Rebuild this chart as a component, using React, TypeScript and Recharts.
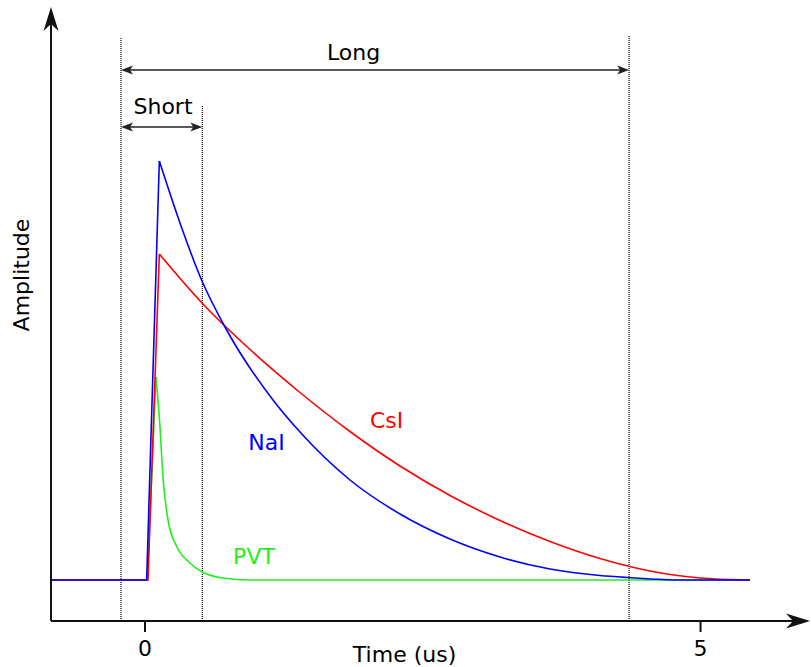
import React from 'react';
import { LineChart, Line, XAxis, YAxis, ReferenceLine, ReferenceDot } from 'recharts';

// Time in microseconds, amplitude in arbitrary units (baseline = 41)
const xTicks = [0, 5];
const xDomain = [-0.846, 5.985];
const yDomain = [0, 613];

const naiRise = [
  { t: -0.846, v: 41 },
  { t: 0.015, v: 41 },
  { t: 0.129, v: 460 },
];
const naiDecay = [
  { t: 0.129, v: 460 },
  { t: 0.315, v: 398 },
  { t: 0.513, v: 340 },
  { t: 0.72, v: 294 },
  { t: 1.152, v: 221 },
  { t: 1.395, v: 189 },
  { t: 1.845, v: 141 },
  { t: 2.295, v: 107 },
  { t: 2.745, v: 82 },
  { t: 3.195, v: 64 },
  { t: 3.645, v: 52 },
  { t: 4.095, v: 45.5 },
  { t: 4.347, v: 43.5 },
  { t: 4.84, v: 41 },
  { t: 5.445, v: 41 },
];

const csiRise = [
  { t: -0.846, v: 41 },
  { t: 0.027, v: 41 },
  { t: 0.129, v: 367 },
];
const csiDecay = [
  { t: 0.129, v: 367 },
  { t: 0.513, v: 318 },
  { t: 0.945, v: 271.5 },
  { t: 1.395, v: 228.5 },
  { t: 1.845, v: 189.5 },
  { t: 2.295, v: 155 },
  { t: 2.745, v: 125.5 },
  { t: 3.195, v: 100.5 },
  { t: 3.645, v: 79.5 },
  { t: 4.095, v: 62.5 },
  { t: 4.545, v: 50 },
  { t: 4.995, v: 43 },
  { t: 5.445, v: 41 },
];

const pvtRise = [
  { t: -0.846, v: 41 },
  { t: 0.02, v: 41 },
  { t: 0.099, v: 244 },
];
const pvtDecay = [
  { t: 0.099, v: 244 },
  { t: 0.135, v: 194 },
  { t: 0.162, v: 144 },
  { t: 0.207, v: 101 },
  { t: 0.288, v: 74 },
  { t: 0.405, v: 58 },
  { t: 0.513, v: 49 },
  { t: 0.702, v: 43 },
  { t: 0.945, v: 41 },
  { t: 5.445, v: 41 },
];

// Integration gates (us)
const gateStart = -0.216;
const shortEnd = 0.516;
const longEnd = 4.357;

const FONT = "'DejaVu Sans', Verdana, sans-serif";
const NAI_COLOR = '#0000ff';
const CSI_COLOR = '#ff0000';
const PVT_COLOR = '#22ee22';

function headPoints(tx: number, ty: number, dx: number, dy: number, len: number, half: number, notch: number) {
  const l = Math.hypot(dx, dy) || 1;
  const ux = dx / l;
  const uy = dy / l;
  const px = -uy;
  const py = ux;
  const bx = tx - ux * len;
  const by = ty - uy * len;
  const nx = tx - ux * notch;
  const ny = ty - uy * notch;
  return `${tx},${ty} ${bx + px * half},${by + py * half} ${nx},${ny} ${bx - px * half},${by - py * half}`;
}

const axisArrowShape = (props: any) => {
  const { x1, y1, x2, y2 } = props;
  const dx = x2 - x1;
  const dy = y2 - y1;
  const l = Math.hypot(dx, dy) || 1;
  const ex = x2 - (dx / l) * 16;
  const ey = y2 - (dy / l) * 16;
  return (
    <g>
      <line x1={x1} y1={y1} x2={ex} y2={ey} stroke="#111" strokeWidth={2} />
      <polygon points={headPoints(x2, y2, dx, dy, 24, 7.5, 17)} fill="#111" />
    </g>
  );
};

const doubleArrowShape = (props: any) => {
  const { x1, y1, x2, y2 } = props;
  const dx = x2 - x1;
  const dy = y2 - y1;
  return (
    <g>
      <line x1={x1 + 6} y1={y1} x2={x2 - 6} y2={y2} stroke="#222" strokeWidth={1.6} />
      <polygon points={headPoints(x2, y2, dx, dy, 12, 4.5, 9)} fill="#222" />
      <polygon points={headPoints(x1, y1, -dx, -dy, 12, 4.5, 9)} fill="#222" />
    </g>
  );
};

const textShape = (value: string, color: string, rotate = false) => (props: any) => {
  const { cx, cy } = props;
  return (
    <text
      x={cx}
      y={cy}
      textAnchor="middle"
      fill={color}
      fontSize={22}
      fontFamily={FONT}
      transform={rotate ? `rotate(-90, ${cx}, ${cy})` : undefined}
    >
      {value}
    </text>
  );
};

const labels = [
  { t: 1.877, v: 561, text: 'Long', color: '#000', rotate: false },
  { t: 0.162, v: 507, text: 'Short', color: '#000', rotate: false },
  { t: 1.094, v: 171, text: 'NaI', color: NAI_COLOR, rotate: false },
  { t: 2.174, v: 193, text: 'CsI', color: CSI_COLOR, rotate: false },
  { t: 0.981, v: 57, text: 'PVT', color: PVT_COLOR, rotate: false },
  { t: 2.336, v: -41, text: 'Time (us)', color: '#000', rotate: false },
  { t: -1.044, v: 346, text: 'Amplitude', color: '#000', rotate: true },
];

export default function App() {
  const lineCommon = {
    type: 'monotone' as const,
    dataKey: 'v',
    dot: false,
    activeDot: false,
    strokeWidth: 1.6,
    isAnimationActive: false,
  };
  const dotted = { stroke: '#000', strokeWidth: 1.2, strokeDasharray: '1 1', ifOverflow: 'visible' as const };
  return (
    <div style={{ position: 'absolute', left: 0, top: 0, width: 811, height: 667, background: '#fff' }}>
      <LineChart width={811} height={667} margin={{ top: 8, right: 1, bottom: 16, left: 51 }}>
        <XAxis
          dataKey="t"
          type="number"
          domain={xDomain}
          allowDataOverflow
          ticks={xTicks}
          axisLine={false}
          tickLine={{ stroke: '#111', strokeWidth: 2 }}
          tickSize={11}
          tickMargin={8}
          height={30}
          tick={{ fontSize: 22, fill: '#000', fontFamily: FONT }}
        />
        <YAxis type="number" domain={yDomain} allowDataOverflow hide />

        <ReferenceLine segment={[{ x: gateStart, y: 0 }, { x: gateStart, y: 584 }]} {...dotted} />
        <ReferenceLine segment={[{ x: shortEnd, y: 0 }, { x: shortEnd, y: 515 }]} {...dotted} />
        <ReferenceLine segment={[{ x: longEnd, y: 0 }, { x: longEnd, y: 586 }]} {...dotted} />
        <ReferenceLine
          segment={[{ x: gateStart, y: 551 }, { x: longEnd, y: 551 }]}
          shape={doubleArrowShape}
          ifOverflow="visible"
        />
        <ReferenceLine
          segment={[{ x: gateStart, y: 494 }, { x: shortEnd, y: 494 }]}
          shape={doubleArrowShape}
          ifOverflow="visible"
        />

        <Line {...lineCommon} data={pvtRise} type="linear" stroke={PVT_COLOR} />
        <Line {...lineCommon} data={pvtDecay} stroke={PVT_COLOR} />
        <Line {...lineCommon} data={csiRise} type="linear" stroke={CSI_COLOR} />
        <Line {...lineCommon} data={csiDecay} stroke={CSI_COLOR} />
        <Line {...lineCommon} data={naiRise} type="linear" stroke={NAI_COLOR} />
        <Line {...lineCommon} data={naiDecay} stroke={NAI_COLOR} />

        <ReferenceLine
          segment={[{ x: xDomain[0], y: 0 }, { x: xDomain[1], y: 0 }]}
          shape={axisArrowShape}
          ifOverflow="visible"
        />
        <ReferenceLine
          segment={[{ x: xDomain[0], y: 0 }, { x: xDomain[0], y: 614 }]}
          shape={axisArrowShape}
          ifOverflow="visible"
        />

        {labels.map((l) => (
          <ReferenceDot
            key={l.text}
            x={l.t}
            y={l.v}
            r={0}
            ifOverflow="visible"
            shape={textShape(l.text, l.color, l.rotate)}
          />
        ))}
      </LineChart>
    </div>
  );
}
